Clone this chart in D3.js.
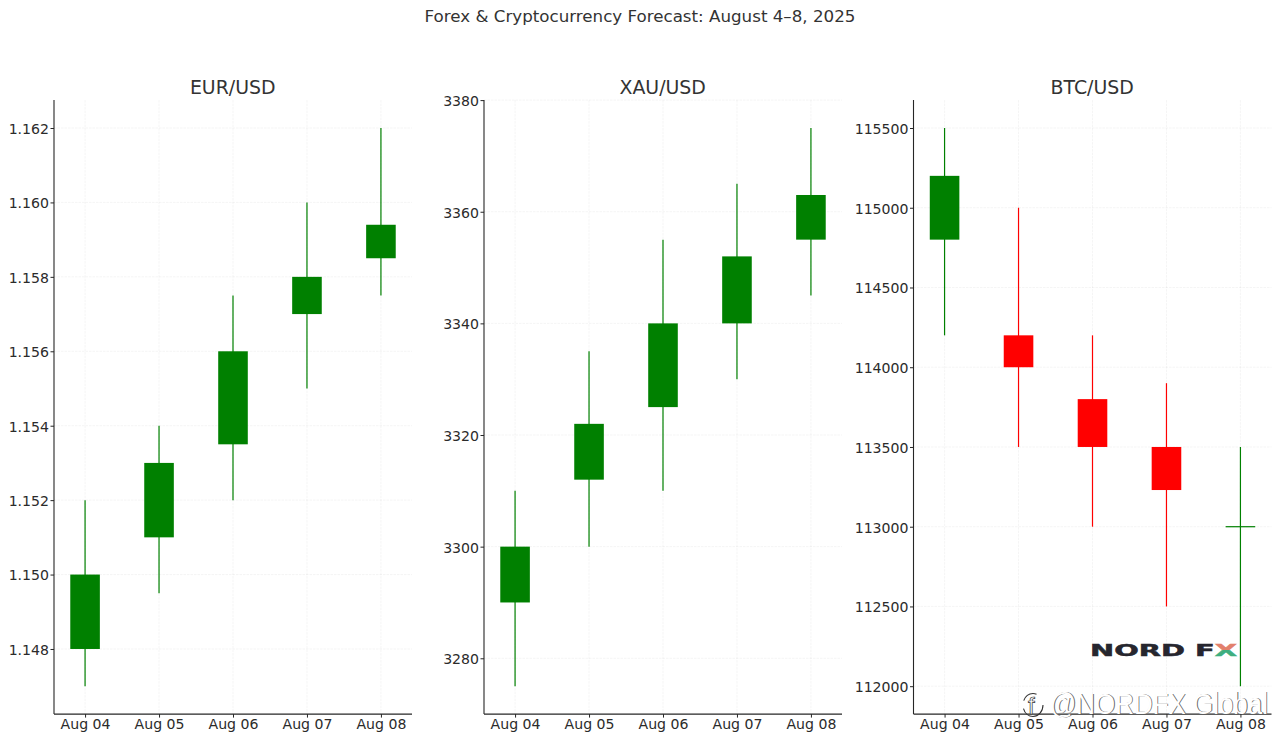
<!DOCTYPE html>
<html>
<head>
<meta charset="utf-8">
<script src="https://cdn.jsdelivr.net/npm/d3@7"></script>
<style>
  html, body { margin: 0; background: #fff; }
  svg { display: block; font-family: "DejaVu Sans", sans-serif; }
  .grid line { stroke: #808080; stroke-opacity: .1; stroke-width: .8; stroke-dasharray: 2.5 1; }
  .axis text { font-size: 14.1px; fill: #2b2b2b; }
  .axis path, .axis line { stroke: #262626; }
</style>
</head>
<body>
<svg id="chart" width="1280" height="741"></svg>
<script>
const days = ["Aug 04", "Aug 05", "Aug 06", "Aug 07", "Aug 08"];

const eurOpen = [1.148, 1.151, 1.1535, 1.157, 1.1585];
const eurClose = [1.150, 1.153, 1.156, 1.158, 1.1594];
const eurLow = [1.147, 1.1495, 1.152, 1.155, 1.1575];
const eurHigh = [1.152, 1.154, 1.1575, 1.160, 1.162];
const eurTicks = [1.148, 1.150, 1.152, 1.154, 1.156, 1.158, 1.160, 1.162];

const xauOpen = [3290, 3312, 3325, 3340, 3355];
const xauClose = [3300, 3322, 3340, 3352, 3363];
const xauLow = [3275, 3300, 3310, 3330, 3345];
const xauHigh = [3310, 3335, 3355, 3365, 3375];
const xauTicks = [3280, 3300, 3320, 3340, 3360, 3380];

const btcOpen = [114800, 114200, 113800, 113500, 113000];
const btcClose = [115200, 114000, 113500, 113230, 113000];
const btcLow = [114200, 113500, 113000, 112500, 112000];
const btcHigh = [115500, 115000, 114200, 113900, 113500];
const btcColor = ["green", "red", "red", "red", "green"];
const btcTicks = [112000, 112500, 113000, 113500, 114000, 114500, 115000, 115500];

const panels = [
  { name: "EUR/USD", left: 54, open: eurOpen, close: eurClose, low: eurLow, high: eurHigh, ticks: eurTicks, fmt: d3.format(".3f"), pad: 0.00075 },
  { name: "XAU/USD", left: 484, open: xauOpen, close: xauClose, low: xauLow, high: xauHigh, ticks: xauTicks, fmt: d3.format("d"), pad: 5 },
  { name: "BTC/USD", left: 913.5, open: btcOpen, close: btcClose, low: btcLow, high: btcHigh, ticks: btcTicks, fmt: d3.format("d"), pad: 175, colors: btcColor }
];

const svg = d3.select("#chart");
const plotTop = 100.1, plotBottom = 714.1, panelWidth = 358;

svg.append("text")
  .attr("x", 640).attr("y", 21.5)
  .attr("text-anchor", "middle")
  .attr("font-size", 16.7).attr("fill", "#333")
  .text("Forex & Cryptocurrency Forecast: August 4\u20138, 2025");

panels.forEach(p => {
  const g = svg.append("g");
  const x = d3.scaleLinear().domain([-0.42, 4.42]).range([p.left, p.left + panelWidth]);
  const y = d3.scaleLinear()
    .domain([d3.min(p.low) - p.pad, d3.max(p.high) + p.pad])
    .range([plotBottom, plotTop]);

  // grid first so the candles sit on top
  const grid = g.append("g").attr("class", "grid");
  grid.selectAll(".v").data(days).join("line").attr("class", "v")
    .attr("x1", (d, i) => x(i)).attr("x2", (d, i) => x(i))
    .attr("y1", plotTop).attr("y2", plotBottom);
  grid.selectAll(".h").data(p.ticks).join("line").attr("class", "h")
    .attr("x1", p.left).attr("x2", p.left + panelWidth)
    .attr("y1", d => y(d)).attr("y2", d => y(d));

  const color = i => p.colors ? p.colors[i] : "green";

  g.selectAll(".wick").data(days).join("line").attr("class", "wick")
    .attr("x1", (d, i) => x(i)).attr("x2", (d, i) => x(i))
    .attr("y1", (d, i) => y(p.low[i])).attr("y2", (d, i) => y(p.high[i]))
    .attr("stroke", (d, i) => color(i)).attr("stroke-width", 1.2);

  g.selectAll(".body").data(days).join("rect").attr("class", "body")
    .attr("x", (d, i) => x(i - 0.2))
    .attr("width", x(0.4) - x(0))
    .attr("y", (d, i) => y(Math.max(p.open[i], p.close[i])))
    .attr("height", (d, i) => y(Math.min(p.open[i], p.close[i])) - y(Math.max(p.open[i], p.close[i])))
    .attr("fill", (d, i) => color(i));

  // flat candle: open == close still gets a line
  g.selectAll(".flat").data(days.filter((d, i) => p.open[i] === p.close[i])).join("line").attr("class", "flat")
    .attr("x1", d => x(days.indexOf(d) - 0.2)).attr("x2", d => x(days.indexOf(d) + 0.2))
    .attr("y1", d => y(p.open[days.indexOf(d)])).attr("y2", d => y(p.open[days.indexOf(d)]))
    .attr("stroke", d => color(days.indexOf(d))).attr("stroke-width", 1.2);

  const yAxis = d3.axisLeft(y).tickValues(p.ticks).tickFormat(p.fmt).tickSize(3.5).tickPadding(1.5);
  const yg = g.append("g").attr("class", "axis").attr("transform", `translate(${p.left},0)`).call(yAxis);
  yg.select(".domain").attr("d", `M0,${plotTop}V${plotBottom}`).attr("stroke-width", 1.1);
  yg.selectAll("text").attr("dy", "0.38em");

  const xAxis = d3.axisBottom(x).tickValues(d3.range(days.length)).tickFormat(i => days[i]).tickSize(3.5).tickPadding(1.5);
  g.append("g").attr("class", "axis").attr("transform", `translate(0,${plotBottom})`).call(xAxis)
    .select(".domain").attr("d", `M${p.left},0H${p.left + panelWidth}`).attr("stroke-width", 1.1);

  g.selectAll(".axis text").attr("font-family", "DejaVu Sans");

  g.append("text")
    .attr("x", p.left + panelWidth / 2 - 0.3).attr("y", 93.5)
    .attr("text-anchor", "middle")
    .attr("font-size", 18.9).attr("fill", "#333")
    .text(p.name);
});

// logo, X is two-tone
const grad = svg.append("defs").append("linearGradient").attr("id", "logoX")
  .attr("gradientUnits", "userSpaceOnUse")
  .attr("x1", 0).attr("x2", 0).attr("y1", 644).attr("y2", 656);
grad.append("stop").attr("offset", "50%").attr("stop-color", "#e2806c");
grad.append("stop").attr("offset", "50%").attr("stop-color", "#3fae7f");

const logo = svg.append("text")
  .attr("x", 1090).attr("y", 655.5)
  .attr("font-family", "DejaVu Sans").attr("font-weight", "bold")
  .attr("font-size", 16).attr("fill", "#26262e").attr("stroke", "#26262e").attr("stroke-width", .5)
  .attr("textLength", 147).attr("lengthAdjust", "spacingAndGlyphs");
logo.append("tspan").text("NORD F");
logo.append("tspan").attr("fill", "url(#logoX)").attr("stroke", "url(#logoX)").text("X");

// watermark: white glyphs with a dark edge offset behind them
const mark = svg.append("g").attr("font-family", "Liberation Sans").attr("font-size", 29);
const markText = (dx, fill) => {
  const t = mark.append("text").attr("fill", fill).text("@NORDFX Global");
  const sx = 218 / t.node().getComputedTextLength();
  t.attr("transform", `translate(${1050 + dx},${713.5 + dx / 2}) scale(${sx},1)`);
};
markText(0.9, "#666");
markText(0, "#fff");

const icon = svg.append("g").attr("fill", "none").attr("stroke", "#333").attr("stroke-width", 1.1);
icon.append("ellipse").attr("cx", 1033).attr("cy", 705).attr("rx", 10).attr("ry", 11.5)
  .attr("stroke-dasharray", "30 8 16 20");
mark.append("text").attr("x", 1028).attr("y", 714).attr("fill", "#fff").attr("stroke", "#333").attr("stroke-width", .7).attr("font-size", 24).text("f");
</script>
</body>
</html>
